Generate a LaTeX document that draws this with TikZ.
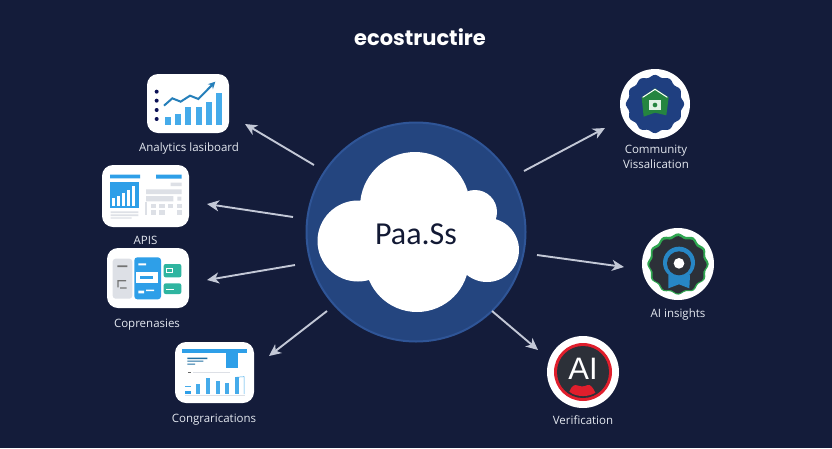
\documentclass[tikz,border=0pt]{standalone}
\usepackage{fontspec}
\setmainfont{Open Sans}
\newfontfamily\titlefont{Poppins}
\newfontfamily\hubfont{Carlito}
\newfontfamily\aifont{Liberation Sans}
\usetikzlibrary{arrows.meta}
\definecolor{bgc}{HTML}{141C3A}
\definecolor{ringc}{HTML}{24457F}
\definecolor{ringe}{HTML}{2F5597}
\definecolor{arrc}{HTML}{C3C8D6}
\definecolor{labc}{HTML}{E4E8F0}
\definecolor{blu}{HTML}{2E9FE8}
\definecolor{lblu}{HTML}{45ABEA}
\definecolor{teal1}{HTML}{2FB5A0}
\definecolor{gry}{HTML}{DDE0E6}
\definecolor{wavb}{HTML}{1F3F80}
\definecolor{drk}{HTML}{2C3038}
\definecolor{grn}{HTML}{2FA650}
\definecolor{redc}{HTML}{E01E2C}
\tikzset{
  x=1pt,y=-1pt,
  card/.style={fill=white,rounded corners=11pt,minimum width=0pt,inner sep=0pt},
  lab/.style={text=labc,font=\fontsize{11.5}{14}\selectfont,align=center,inner sep=0pt},
  conn/.style={draw=arrc,line width=1.9pt,-{Stealth[length=12pt,width=11pt,inset=3.5pt]}},
  iconring/.style={fill=white,circle,inner sep=0pt,minimum size=72pt},
  zoomview/.style={x=0.33333pt,y=-0.33333pt},
}
\newcommand{\wavy}[5]{% cx cy r amp colour
  \fill[#5] plot[smooth cycle,samples=73,domain=0:355,variable=\t]
    ({#1+(#3+#4*cos(12*\t))*cos(\t)},{#2+(#3+#4*cos(12*\t))*sin(\t)});}
\begin{document}
\begin{tikzpicture}
\useasboundingbox (0,0) rectangle (832,448);
\fill[bgc] (0,0) rectangle (832,448);
\node[text=white,font=\titlefont\fontsize{21}{24}\selectfont\bfseries,inner sep=0pt] (title) at (420,37) {ecostructire};
% hub
\node[circle,fill=ringc,draw=ringe,line width=2pt,minimum size=219pt,inner sep=0pt] (hub) at (416,232) {};
\fill[white] (415,207) circle (55) (417,260) circle (52) (358,241) circle (40.5) (487,250) circle (32) (475,212) circle (22) (440,235) circle (45) (390,235) circle (45);
\node[text=black!10!bgc,font=\hubfont\fontsize{32}{36}\selectfont,inner sep=0pt] (hubtext) at (416,234) {Paa.Ss};
% cards
\node[card,minimum width=82pt,minimum height=59pt] (c1) at (188,103.5) {};
\node[card,minimum width=87pt,minimum height=62pt] (c2) at (145.5,196) {};
\node[card,minimum width=82pt,minimum height=60pt] (c3) at (148,278) {};
\node[card,minimum width=79pt,minimum height=61pt] (c4) at (214.5,372.5) {};
% card 1 content
\begin{scope}[shift={(90,60)},zoomview]
  \foreach \xa/\ya in {225/172,255/163,286/140,317/140,347/125,378/100}
    \fill[lblu] (\xa,\ya) rectangle (\xa+18,195);
  \foreach \ya in {95,122,150,177} \fill[black!25!bgc!80!blue] (200,\ya) circle (6);
  \draw[blu!80!black,line width=2pt,-{Stealth[length=7pt,width=7pt]}] (222,137)--(247,115)--(272,125)--(300,107)--(325,117)--(376,65);
\end{scope}
% card 2 content
\begin{scope}[shift={(90,60)},zoomview]
  \fill[blu] (60,344) rectangle (150,355) (198,344) rectangle (275,356);
  \fill[blu] (60,366) rectangle (146,444);
  \foreach \xa/\ya in {66/415,81/408,96/399,111/389,126/378} \fill[white] (\xa,\ya) rectangle (\xa+10,438);
  \fill[gry] (168,388) rectangle (275,402) (168,408) rectangle (250,424) (262,410) rectangle (274,422) (242,368) rectangle (275,378);
  \foreach \xa in {182,208,234,260} \fill[gry] (\xa,431) rectangle (\xa+16,444);
  \foreach \xa in {182,208,260} \fill[gry] (\xa,451) rectangle (\xa+16,464);
  \fill[gry] (165,425) rectangle (172,464);
  \fill[gry] (62,454) rectangle (145,459) (62,463) rectangle (145,468) (62,472) rectangle (125,476);
\end{scope}
% card 3 content
\begin{scope}[shift={(90,240)},zoomview]
  \fill[gry,rounded corners=3pt] (68,56) rectangle (127,176);
  \fill[black!55] (82,76) rectangle (112,81) (82,120) rectangle (108,124) (82,124) rectangle (86,142) (90,142) rectangle (110,146);
  \fill[blu,rounded corners=3pt] (133,52) rectangle (213,178);
  \fill[white] (139,96) rectangle (205,130);
  \fill[blu] (150,108) rectangle (190,116);
  \fill[white] (145,70) rectangle (168,76) (145,152) rectangle (162,160) (168,149) rectangle (192,153);
  \fill[teal1,rounded corners=2pt] (221,72) rectangle (274,112) (221,130) rectangle (274,162);
  \draw[white,line width=.5pt] (230,85) rectangle (248,97);
  \fill[white] (228,147) rectangle (252,151);
\end{scope}
% card 4 content
\begin{scope}[shift={(90,240)},zoomview]
  \fill[blu] (276,328) rectangle (470,340);
  \fill[blu] (407,340) rectangle (443,385);
  \fill[blu!70!black] (292,353) rectangle (352,357) (292,362) rectangle (340,365) (292,371) rectangle (315,374);
  \fill[gry] (310,396) rectangle (420,399);
  \fill[black!60] (295,396) rectangle (302,400);
  \foreach \xa/\ya in {318/432,348/414,377/424,404/428,436/412} \fill[lblu] (\xa,\ya) rectangle (\xa+12,462);
  \fill[blu] (286,452) rectangle (303,461);
  \fill[lblu] (286,438) rectangle (303,442);
  \draw[gry,line width=.5pt] (284,465)--(465,465);
  \draw[lblu,line width=.5pt] (436,412)--(462,410)--(462,462);
\end{scope}
% icon circles
\node[iconring,minimum size=70pt] (i1) at (655,104) {};
\node[iconring] (i2) at (678,264) {};
\node[iconring] (i3) at (583,372) {};
\wavy{655}{104}{28}{1.2}{wavb}
\wavy{678}{264}{29.5}{1.2}{grn}
\wavy{678}{264.8}{27.5}{1.2}{drk}
\fill[redc] (583,372) circle (29);
\fill[drk] (583,372) circle (26);
% icon 1 glyph
\begin{scope}[shift={(590,60)},zoomview]
  \fill[grn!80!black] (195,85)--(236,112)--(229,166)--(195,158)--(161,170)--(155,112)--cycle;
  \draw[white,line width=1pt] (158,112)--(195,88)--(232,112);
  \fill[white!85!grn] (178,120) rectangle (212,150);
  \fill[grn!80!black] (195,135) circle (7);
\end{scope}
% icon 2 glyph
\begin{scope}[shift={(530,220)},zoomview]
  \fill[blu!85!black] (415,165)--(480,165)--(478,205)--(447,193)--(415,205)--cycle;
  \fill[blu!85!black] (447,128) circle (48);
  \fill[drk] (447,130) circle (36);
  \fill[white] (447,130) circle (16);
\end{scope}
% icon 3 glyph
\node[text=white,font=\aifont\fontsize{31}{32}\selectfont,inner sep=0pt] (aitext) at (583,369) {AI};
\begin{scope}[shift={(530,220)},zoomview]
  \fill[redc] (118,515) .. controls (125,497) and (133,492) .. (145,497)
     .. controls (152,500) and (165,500) .. (172,495) .. controls (182,492) and (190,505) .. (196,518)
     .. controls (180,530) and (140,534) .. (118,515) -- cycle;
\end{scope}
% labels
\node[lab] (l1) at (189,149) {Analytics lasiboard};
\node[lab] (l2) at (145.5,240) {APIS};
\node[lab] (l3) at (147,324.5) {Coprenasies};
\node[lab] (l4) at (214,420) {Congrarications};
\node[lab] (l5) at (656,157) {Community\\[1.2pt]Vissalication};
\node[lab] (l6) at (678,315) {AI insights};
\node[lab] (l7) at (583,420) {Verification};
% connectors
\coordinate (a1) at (314,165); \coordinate (b1) at (245,124);
\coordinate (a2) at (293,217); \coordinate (b2) at (207,204);
\coordinate (a3) at (295,265); \coordinate (b3) at (207,280);
\coordinate (a4) at (327,311); \coordinate (b4) at (269,356);
\coordinate (a5) at (524,171); \coordinate (b5) at (605,128);
\coordinate (a6) at (537,255); \coordinate (b6) at (624,267);
\coordinate (a7) at (492,311); \coordinate (b7) at (538,350);
\foreach \n in {1,...,7} \draw[conn] (a\n) -- (b\n);
\end{tikzpicture}
\end{document}
